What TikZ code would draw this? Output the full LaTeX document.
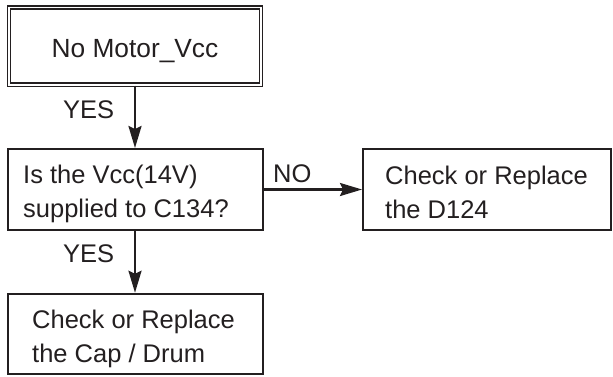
\documentclass[tikz,border=0pt]{standalone}
\usepackage{fontspec}
\setmainfont{Liberation Sans}
\usetikzlibrary{arrows.meta}
\definecolor{ink}{HTML}{231F20}
\begin{document}
\begin{tikzpicture}[x=1pt,y=-1pt,
  box/.style={draw=ink, line width=2pt, inner sep=0pt},
  dbox/.style={draw=ink, line width=1.6pt, double=white, double distance=1.5pt, inner sep=0pt},
  txt/.style={text=ink, font=\fontsize{25.5}{34}\selectfont, align=left, inner sep=0pt},
  arr/.style={draw=ink, line width=2.4pt, -{Stealth[length=22pt,width=13pt,inset=3pt]}},
]
\useasboundingbox (0,0) rectangle (613,376);
\node[dbox, minimum width=252pt, minimum height=77.5pt] (b1) at (135,46) {};
\node[box, minimum width=255pt, minimum height=81pt] (b2) at (135,189.5) {};
\node[box, minimum width=248pt, minimum height=81pt] (b3) at (487,189.5) {};
\node[box, minimum width=255pt, minimum height=80.5pt] (b4) at (135,334) {};
\node[txt, anchor=base, font=\fontsize{26.3}{34}\selectfont] (t1) at (135,57) {No Motor\_Vcc};
\node[txt, anchor=base west] (t2) at (23,217) {Is the Vcc(14V)\\supplied to C134?};
\node[txt, anchor=base west] (t3) at (385,218) {Check or Replace\\the D124};
\node[txt, anchor=base west] (t4) at (32,362) {Check or Replace\\the Cap / Drum};
\node[txt, anchor=base west] (l1) at (63,118) {YES};
\node[txt, anchor=base west] (l2) at (63,262) {YES};
\node[txt, anchor=base west] (l3) at (273,182) {NO};
\draw[arr] (b1.south) -- (b2.north);
\draw[arr] (b2.east) -- (b3.west);
\draw[arr] (b2.south) -- (b4.north);
\end{tikzpicture}
\end{document}
